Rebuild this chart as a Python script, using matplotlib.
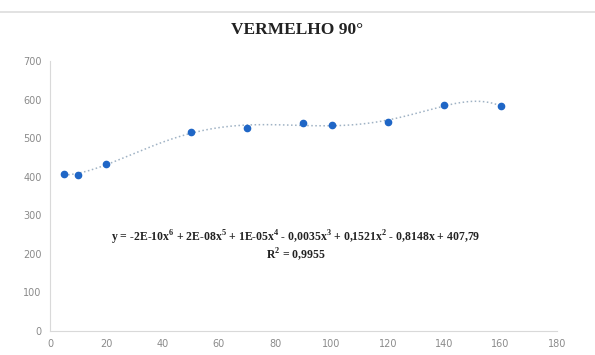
import matplotlib.pyplot as plt
import numpy as np

# data
angulo = [5, 10, 20, 50, 70, 90, 100, 120, 140, 160]
valor = [407, 404, 433, 516, 526, 539, 534, 542, 586, 583]

titulo = 'VERMELHO 90°'
equacao = 'y = -2E-10x$^6$ + 2E-08x$^5$ + 1E-05x$^4$ - 0,0035x$^3$ + 0,1521x$^2$ - 0,8148x + 407,79'
r2 = 'R$^2$ = 0,9955'

plt.rcParams['mathtext.fontset'] = 'custom'
plt.rcParams['mathtext.rm'] = 'Liberation Serif:bold'

fig = plt.figure(figsize=(5.95, 3.55), dpi=100)
ax = fig.add_axes([0.084, 0.068, 0.852, 0.76])

# 6th order polynomial trendline
coef = np.polyfit(angulo, valor, 6)
xs = np.linspace(min(angulo), max(angulo), 300)
ax.plot(xs, np.polyval(coef, xs), ls=':', color='#9fb2c4', lw=1.1)
ax.plot(angulo, valor, 'o', color='#1f66c6', ms=4.5)

ax.set_xlim(0, 180)
ax.set_ylim(0, 700)
ax.set_xticks(range(0, 181, 20))
ax.set_yticks(range(0, 701, 100))
ax.tick_params(length=0, labelsize=7, colors='#8a8a8a', pad=6)
for s in ['top', 'right']:
    ax.spines[s].set_visible(False)
for s in ['left', 'bottom']:
    ax.spines[s].set_color('#d9d9d9')

fig.text(0.5, 0.915, titulo, ha='center', va='center', fontsize=12.5,
         fontweight='bold', family='Liberation Serif', color='#222222')
ax.text(0.485, 0.343, equacao, transform=ax.transAxes, ha='center', va='center',
        fontsize=8.5, fontweight='bold', family='Liberation Serif', color='#222222')
ax.text(0.485, 0.283, r2, transform=ax.transAxes, ha='center', va='center',
        fontsize=8.5, fontweight='bold', family='Liberation Serif', color='#222222')

fig.add_artist(plt.Line2D([0, 1], [0.965, 0.965], color='#dddddd', lw=1.2,
                          transform=fig.transFigure))

fig.savefig('out.png', dpi=100)
